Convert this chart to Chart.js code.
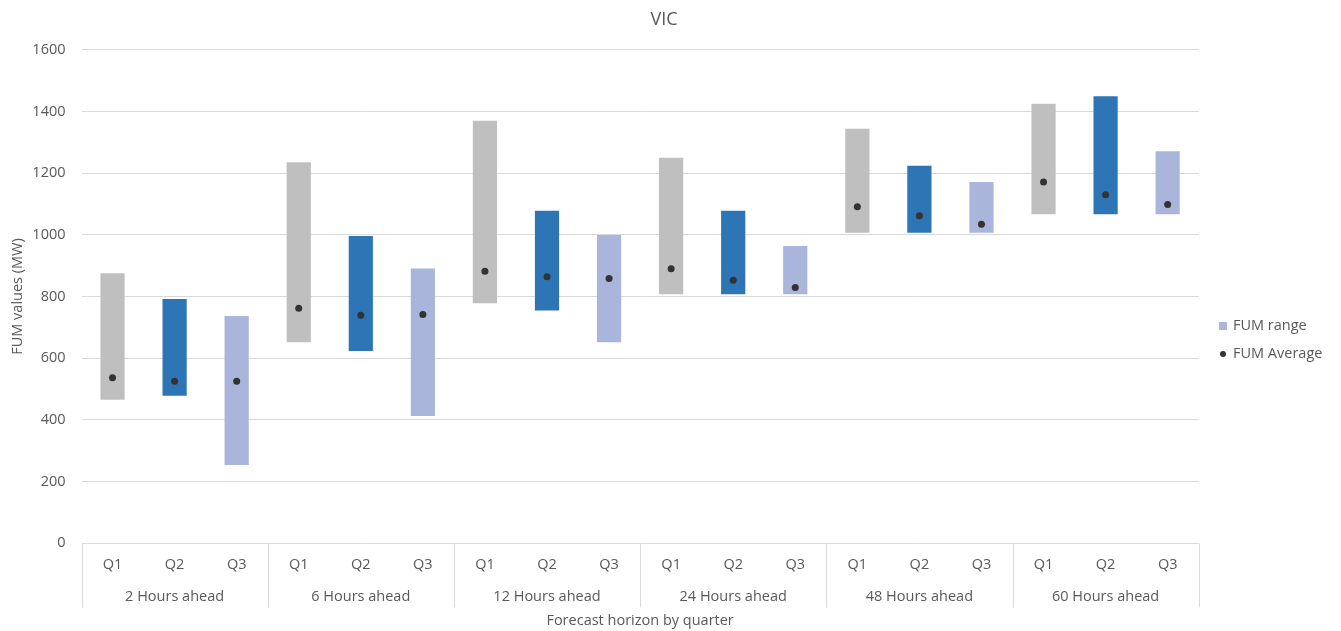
<!DOCTYPE html>
<html>
<head>
<meta charset="utf-8">
<script src="https://cdn.jsdelivr.net/npm/chart.js@4/dist/chart.umd.min.js"></script>
<style>
  html, body { margin: 0; padding: 0; background: #ffffff; }
  canvas { display: block; }
</style>
</head>
<body>
<canvas id="chart" width="1341" height="631"></canvas>
<script>
// Quarters within each forecast horizon
const quarters = ['Q1', 'Q2', 'Q3'];
const horizons = ['2 Hours ahead', '6 Hours ahead', '12 Hours ahead', '24 Hours ahead', '48 Hours ahead', '60 Hours ahead'];

// FUM range (MW) per horizon/quarter: lower and upper bounds
const rangeLow  = [465, 478, 254,  652, 623, 413,  778, 755, 652,  807, 807, 807,  1007, 1007, 1007,  1067, 1067, 1067];
const rangeHigh = [875, 792, 737, 1235, 996, 891, 1370, 1078, 999, 1250, 1078, 964, 1344, 1224, 1171, 1425, 1449, 1271];
// FUM average (MW)
const fumAverage = [537, 525, 525,  762, 739, 742,  882, 864, 858,  890, 853, 829, 1091, 1062, 1034, 1171, 1130, 1098];

// Y axis ticks
const yMin = 0, yMax = 1600, yStep = 200;

const quarterColors = { Q1: '#BFBFBF', Q2: '#2E75B6', Q3: '#A9B5DA' };
const textColor = '#595959';
const fontFamily = '"Open Sans", "Noto Sans", sans-serif';
const fontSize = 14.5;

const labels = [];
horizons.forEach(() => quarters.forEach(q => labels.push(q)));
const barData = rangeLow.map((lo, i) => [lo, rangeHigh[i]]);
const barColors = labels.map(q => quarterColors[q]);

// Draws the title, the two-level category axis, its separators and the legend
const categoryAxisPlugin = {
  id: 'categoryAxis',
  afterDraw(chart) {
    const { ctx, chartArea, scales } = chart;
    const x = scales.x;
    const n = labels.length;
    const step = (chartArea.right - chartArea.left) / n;
    const bottom = chartArea.bottom;
    ctx.save();

    // title
    ctx.fillStyle = textColor;
    ctx.textAlign = 'center';
    ctx.textBaseline = 'middle';
    ctx.font = '18px ' + fontFamily;
    ctx.fillText('VIC', 664, 20);

    ctx.strokeStyle = '#D9D9D9';
    ctx.lineWidth = 1;
    // group separators
    for (let g = 0; g <= horizons.length; g++) {
      const px = Math.round(chartArea.left + g * 3 * step) + 0.5;
      ctx.beginPath();
      ctx.moveTo(px, bottom);
      ctx.lineTo(px, bottom + 64);
      ctx.stroke();
    }
    ctx.font = fontSize + 'px ' + fontFamily;
    labels.forEach((lab, i) => {
      ctx.fillText(lab, x.getPixelForValue(i), bottom + 22);
    });
    horizons.forEach((h, g) => {
      const cx = (x.getPixelForValue(g * 3) + x.getPixelForValue(g * 3 + 2)) / 2;
      ctx.fillText(h, cx, bottom + 54);
    });
    ctx.fillText('Forecast horizon by quarter', (chartArea.left + chartArea.right) / 2, bottom + 78);

    // legend
    const lx = 1219, ly1 = 326, ly2 = 354;
    ctx.fillStyle = quarterColors.Q3;
    ctx.fillRect(lx, ly1 - 4, 8, 8);
    ctx.fillStyle = '#333333';
    ctx.beginPath();
    ctx.arc(lx + 4, ly2, 3, 0, Math.PI * 2);
    ctx.fill();
    ctx.fillStyle = textColor;
    ctx.textAlign = 'left';
    ctx.fillText('FUM range', lx + 14, ly1);
    ctx.fillText('FUM Average', lx + 14, ly2);
    ctx.restore();
  }
};

new Chart(document.getElementById('chart'), {
  type: 'bar',
  data: {
    labels: labels,
    datasets: [
      {
        type: 'line',
        label: 'FUM Average',
        data: fumAverage,
        showLine: false,
        pointRadius: 3.5,
        pointHoverRadius: 3.5,
        pointBackgroundColor: '#333333',
        pointBorderWidth: 0,
        borderColor: '#333333',
        order: 1
      },
      {
        label: 'FUM range',
        data: barData,
        backgroundColor: barColors,
        borderWidth: 0,
        barPercentage: 0.39,
        categoryPercentage: 1,
        order: 2
      }
    ]
  },
  options: {
    responsive: false,
    animation: false,
    devicePixelRatio: 1,
    layout: { padding: { left: 0, right: 142.3, top: 49.7, bottom: 0 } },
    plugins: {
      legend: { display: false },
      tooltip: { enabled: false },
      title: { display: false }
    },
    scales: {
      x: {
        grid: { display: false },
        border: { display: false },
        ticks: { display: false },
        afterFit(scale) { scale.height = 87.7; }
      },
      y: {
        min: yMin,
        max: yMax,
        ticks: {
          stepSize: yStep,
          color: textColor,
          padding: 16,
          font: { family: fontFamily, size: fontSize },
          callback: (v) => String(v)
        },
        grid: { color: '#D9D9D9', lineWidth: 1, drawTicks: false },
        border: { display: false },
        title: {
          display: true,
          text: 'FUM values (MW)',
          color: textColor,
          font: { family: fontFamily, size: fontSize },
          padding: { top: 9, bottom: 0 }
        },
        afterFit(scale) { scale.width = 81.5; }
      }
    }
  },
  plugins: [categoryAxisPlugin]
});
</script>
</body>
</html>
